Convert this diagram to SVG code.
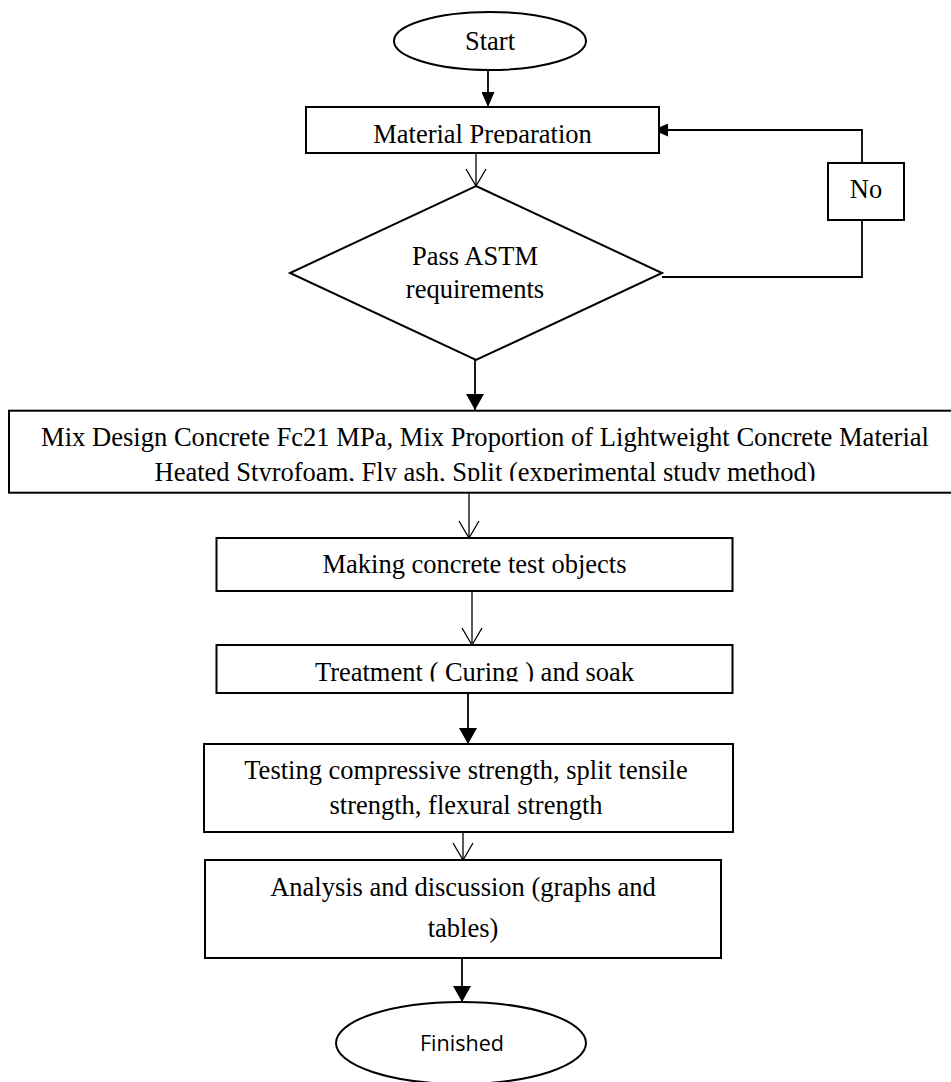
<svg xmlns="http://www.w3.org/2000/svg" width="951" height="1082" viewBox="0 0 951 1082">
<style>
.box{fill:#fff;stroke:#000;stroke-width:2}
.t{font-family:"Liberation Serif","Times New Roman",serif;fill:#000;text-anchor:middle;font-size:26.5px}
.s{font-family:"Open Sans","Noto Sans",sans-serif;fill:#000;text-anchor:middle;font-size:22px}
.c{fill:none;stroke:#000;stroke-width:1.8}
.o{fill:none;stroke:#000;stroke-width:1.3}
</style>
<defs>
<marker id="fa" viewBox="0 0 16 18" refX="16" refY="9" markerWidth="16" markerHeight="18" orient="auto" markerUnits="userSpaceOnUse"><path d="M0,0 L16,9 L0,18 Z" fill="#000"/></marker>
<marker id="fs" viewBox="0 0 15 13" refX="15" refY="6.5" markerWidth="15" markerHeight="13" orient="auto" markerUnits="userSpaceOnUse"><path d="M0,0 L15,6.5 L0,13 Z" fill="#000"/></marker>
<marker id="ov" viewBox="0 0 19 22" refX="18" refY="11" markerWidth="19" markerHeight="22" orient="auto" markerUnits="userSpaceOnUse"><path d="M1,1 L18,11 L1,21" fill="none" stroke="#000" stroke-width="1.3"/></marker>
<clipPath id="cpMat"><rect x="300" y="100" width="360" height="43.5"/></clipPath>
<clipPath id="cpMix"><rect x="0" y="455" width="951" height="26"/></clipPath>
<clipPath id="cpTre"><rect x="210" y="640" width="530" height="41.5"/></clipPath>
</defs>
<g id="connectors">
<line class="c" x1="488" y1="70" x2="488" y2="107" marker-end="url(#fs)"/>
<line class="o" x1="476" y1="153" x2="476" y2="186" marker-end="url(#ov)"/>
<line class="c" x1="475" y1="360" x2="475" y2="410" marker-end="url(#fa)"/>
<polyline class="c" points="662,277 862,277 862,220"/>
<polyline class="c" points="862,163 862,130 653,130" marker-end="url(#fs)"/>
<line class="o" x1="469" y1="493" x2="469" y2="538" marker-end="url(#ov)"/>
<line class="o" x1="472" y1="591" x2="472" y2="645" marker-end="url(#ov)"/>
<line class="c" x1="468" y1="693" x2="468" y2="744" marker-end="url(#fa)"/>
<line class="o" x1="463" y1="832" x2="463" y2="860" marker-end="url(#ov)"/>
<line class="c" x1="462" y1="958" x2="462" y2="1002" marker-end="url(#fa)"/>
</g>
<g id="start">
<ellipse class="box" cx="490" cy="41" rx="96" ry="29"/>
<text class="t" x="490" y="50" font-size="23">Start</text>
</g>
<g id="material">
<rect class="box" x="306" y="107" width="353" height="46"/>
<text class="t" x="482.5" y="142.7" clip-path="url(#cpMat)">Material Preparation</text>
</g>
<g id="decision">
<polygon class="box" points="476,186 662,273 476,360 290,273"/>
<text class="t" x="475" y="265">Pass ASTM</text>
<text class="t" x="475" y="298">requirements</text>
</g>
<g id="no">
<rect class="box" x="828" y="163" width="76" height="57"/>
<text class="t" x="866" y="198">No</text>
</g>
<g id="mixdesign">
<rect class="box" x="9" y="410.7" width="953" height="82"/>
<text class="t" x="485" y="446" textLength="888" lengthAdjust="spacingAndGlyphs">Mix Design Concrete Fc21 MPa, Mix Proportion of Lightweight Concrete Material</text>
<text class="t" x="485" y="480.5" clip-path="url(#cpMix)" textLength="661" lengthAdjust="spacingAndGlyphs">Heated Styrofoam, Fly ash, Split (experimental study method)</text>
</g>
<g id="making">
<rect class="box" x="216.5" y="538" width="516" height="53"/>
<text class="t" x="474.5" y="573">Making concrete test objects</text>
</g>
<g id="treatment">
<rect class="box" x="216.5" y="645" width="516" height="48"/>
<text class="t" x="474.5" y="681" clip-path="url(#cpTre)">Treatment ( Curing ) and soak</text>
</g>
<g id="testing">
<rect class="box" x="204" y="744" width="529" height="88"/>
<text class="t" x="466" y="779">Testing compressive strength, split tensile</text>
<text class="t" x="466" y="814">strength, flexural strength</text>
</g>
<g id="analysis">
<rect class="box" x="205" y="860" width="516" height="98"/>
<text class="t" x="463" y="896" font-size="29.3">Analysis and discussion (graphs and</text>
<text class="t" x="463" y="937" font-size="29.3">tables)</text>
</g>
<g id="finished">
<ellipse class="box" cx="461" cy="1043" rx="125" ry="41"/>
<text class="s" x="462" y="1051" textLength="84" lengthAdjust="spacingAndGlyphs">Finished</text>
</g>
</svg>
